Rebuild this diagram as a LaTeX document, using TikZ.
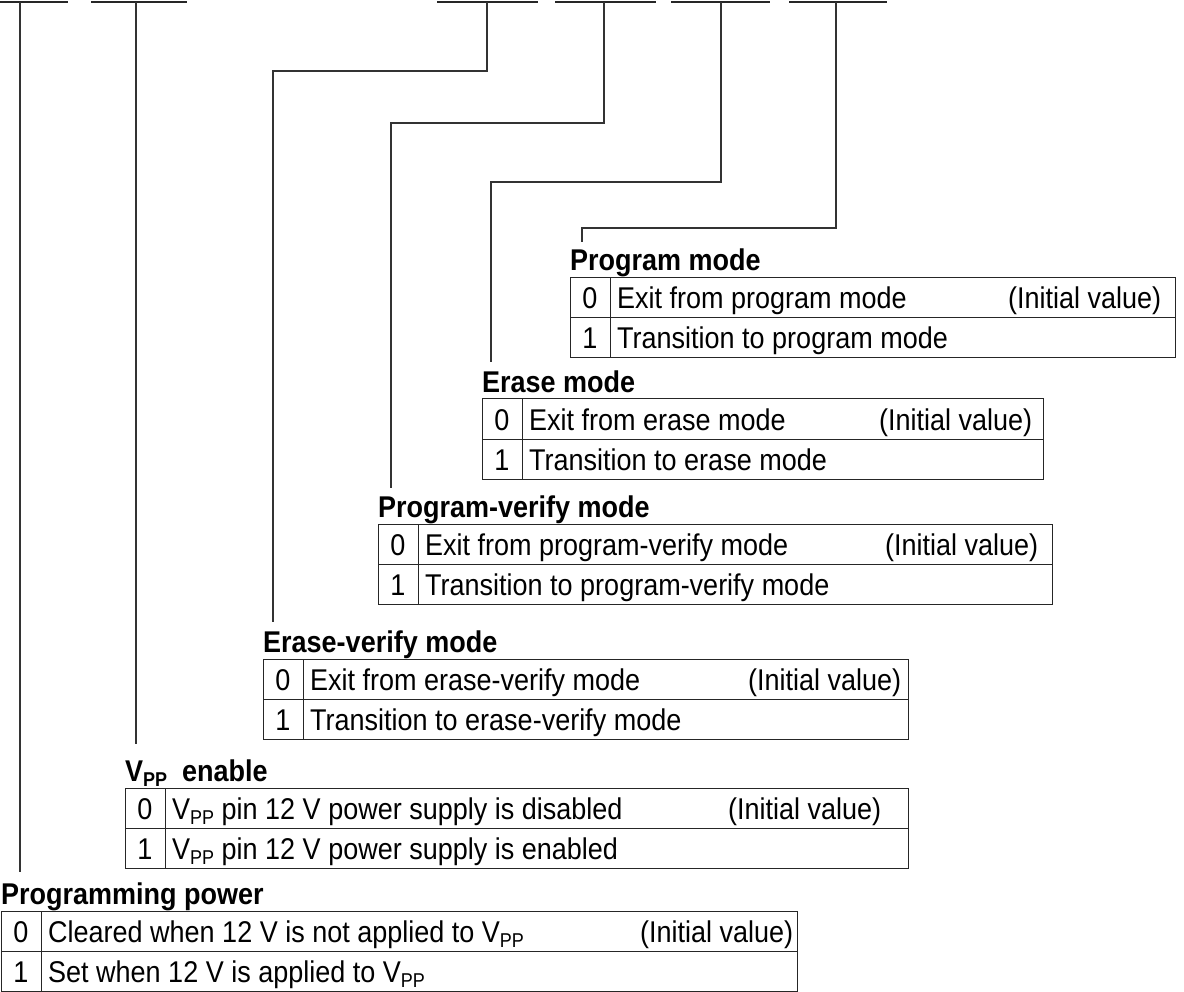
\documentclass[tikz,border=0pt]{standalone}
\usepackage{fontspec}
\setmainfont{Liberation Sans}[FakeStretch=0.9]
\newcommand{\Vpp}{V\raisebox{-5pt}{\fontsize{20}{22}\selectfont PP}}

\begin{document}
\begin{tikzpicture}[x=1pt,y=-1pt,
    bitbar/.style={line width=1.3pt,black!85},
    lead/.style={line width=1.1pt,black!80},
    grid/.style={line width=1pt,black!85},
    cell/.style={inner sep=0pt,font=\fontsize{30}{34}\selectfont},
    ttl/.style={inner sep=0pt,font=\fontsize{30}{34}\selectfont\bfseries}]
  \useasboundingbox (0,0) rectangle (1184,992);
  % bit fields of the register (top row)
  \foreach \xa/\xb in {-27/68,91/187,437/538,555/656,671/770,789/887}
    \draw[bitbar] (\xa,2) -- (\xb,2);
  % taps under the bit fields
  \foreach \i/\x in {1/20,2/136,3/487,4/604,5/721,6/836}
    \coordinate (tap\i) at (\x,2);
  % straight leads
  \coordinate (end1) at (20,872);
  \coordinate (end2) at (136,744);
  \draw[lead] (tap1) -- (end1);
  \draw[lead] (tap2) -- (end2);
  % bent leads: tap / bend x / bend y / end y
  \foreach \i/\bx/\by/\ey in {3/273/71/622,4/391/123/488,5/491/182/362,6/582/228/242} {
    \coordinate (bend\i) at (\bx,\by);
    \coordinate (end\i) at (\bx,\ey);
    \draw[lead] (tap\i) |- (bend\i) -- (end\i);
  }
  % tables: name / left / right / top / title / row 0 / row 1 / x of initial value
  \foreach \nm/\lx/\rx/\ty/\ttl/\ra/\rb/\ix in {
    pm/570/1175/278/{Program mode}/{Exit from program mode}/{Transition to program mode}/1008,
    em/482/1043/399/{Erase mode}/{Exit from erase mode}/{Transition to erase mode}/879,
    pv/378/1052/524/{Program-verify mode}/{Exit from program-verify mode}/{Transition to program-verify mode}/885,
    ev/263/908/659/{Erase-verify mode}/{Exit from erase-verify mode}/{Transition to erase-verify mode}/748,
    ve/125/908/788/{\Vpp\ \ enable}/{\Vpp\ pin 12 V power supply is disabled}/{\Vpp\ pin 12 V power supply is enabled}/728,
    pp/1/797/911/{Programming power}/{Cleared when 12 V is not applied to \Vpp}/{Set when 12 V is applied to \Vpp}/640} {
    \node[ttl,anchor=base west] (\nm-t) at (\lx,\ty-7) {\ttl};
    \draw[grid] (\lx,\ty) rectangle (\rx,\ty+80);
    \draw[grid] (\lx,\ty+40) -- (\rx,\ty+40);
    \draw[grid] (\lx+40,\ty) -- (\lx+40,\ty+80);
    \node[cell,anchor=base] (\nm-k0) at (\lx+20,\ty+31) {0};
    \node[cell,anchor=base] (\nm-k1) at (\lx+20,\ty+71) {1};
    \node[cell,anchor=base west] (\nm-r0) at (\lx+47,\ty+31) {\ra};
    \node[cell,anchor=base west] (\nm-r1) at (\lx+47,\ty+71) {\rb};
    \node[cell,anchor=base west] (\nm-iv) at (\ix,\ty+31) {(Initial value)};
  }
\end{tikzpicture}
\end{document}
